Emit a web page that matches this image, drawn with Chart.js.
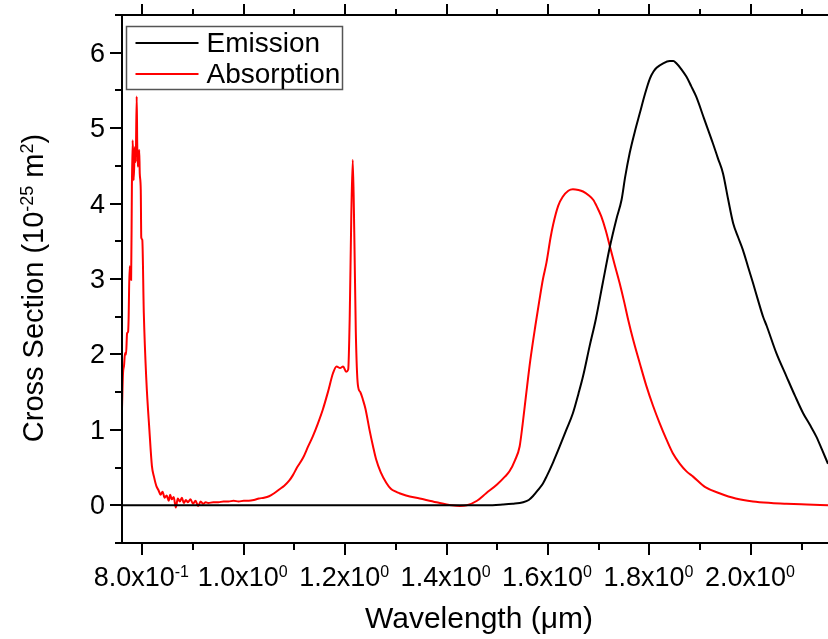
<!DOCTYPE html>
<html>
<head>
<meta charset="utf-8">
<script src="https://cdn.jsdelivr.net/npm/chart.js@4.4.0/dist/chart.umd.min.js"></script>
<style>
    html, body { margin: 0; padding: 0; background: #fff; }
    #wrap { position: relative; width: 828px; height: 639px; }
</style>
</head>
<body>
<div id="wrap"><canvas id="chart"></canvas></div>
<script>
// Emission cross section (black), wavelength in um, value in 1e-25 m^2
const emissionWavelength = [
    0.760, 1.400, 1.480, 1.511, 1.530, 1.551, 1.562, 1.570, 1.580, 1.590,
    1.597, 1.610, 1.623, 1.636, 1.649, 1.660, 1.669, 1.682, 1.694, 1.708,
    1.722, 1.735, 1.745, 1.752, 1.761, 1.771, 1.781, 1.791, 1.801, 1.808,
    1.814, 1.827, 1.840, 1.847, 1.853, 1.863, 1.873, 1.882, 1.892, 1.908,
    1.925, 1.935, 1.945, 1.955, 1.965, 1.975, 1.984, 1.994, 2.004, 2.014,
    2.024, 2.031, 2.050, 2.070, 2.087, 2.103, 2.116, 2.129, 2.140, 2.152
];
const emissionValue = [
    0.00, 0.00, 0.00, 0.01, 0.02, 0.04, 0.07, 0.12, 0.20, 0.29,
    0.38, 0.57, 0.78, 1.00, 1.22, 1.48, 1.71, 2.11, 2.46, 2.95,
    3.43, 3.80, 4.05, 4.35, 4.67, 4.95, 5.20, 5.45, 5.66, 5.75,
    5.80, 5.86, 5.89, 5.89, 5.86, 5.78, 5.68, 5.56, 5.42, 5.12,
    4.80, 4.60, 4.40, 4.06, 3.74, 3.55, 3.39, 3.17, 2.95, 2.72,
    2.50, 2.38, 2.02, 1.71, 1.45, 1.22, 1.07, 0.91, 0.74, 0.55
];

// Absorption cross section (red)
const absorptionWavelength = [
    0.760, 0.762, 0.764, 0.766, 0.768, 0.770, 0.772, 0.773, 0.775, 0.777,
    0.778, 0.7795, 0.781, 0.782, 0.783, 0.785, 0.786, 0.787, 0.789, 0.790,
    0.791, 0.793, 0.794, 0.795, 0.797, 0.798, 0.800, 0.803, 0.808, 0.814,
    0.819, 0.823, 0.828, 0.832, 0.836, 0.840, 0.844, 0.848, 0.852, 0.855,
    0.858, 0.862, 0.866, 0.870, 0.874, 0.878, 0.882, 0.886, 0.890, 0.895,
    0.900, 0.905, 0.910, 0.915, 0.920, 0.925, 0.930, 0.940, 0.950, 0.960,
    0.970, 0.980, 0.990, 1.000, 1.010, 1.020, 1.030, 1.040, 1.050, 1.060,
    1.070, 1.080, 1.090, 1.097, 1.105, 1.117, 1.127, 1.136, 1.146, 1.156,
    1.166, 1.176, 1.183, 1.190, 1.196, 1.202, 1.206, 1.209, 1.212, 1.215,
    1.218, 1.221, 1.225, 1.230, 1.235, 1.240, 1.248, 1.255, 1.261, 1.270,
    1.281, 1.290, 1.300, 1.307, 1.320, 1.347, 1.380, 1.410, 1.426, 1.440,
    1.460, 1.478, 1.500, 1.515, 1.524, 1.535, 1.544, 1.550, 1.557, 1.565,
    1.575, 1.583, 1.590, 1.597, 1.605, 1.610, 1.620, 1.629, 1.640, 1.649,
    1.660, 1.669, 1.680, 1.689, 1.697, 1.705, 1.714, 1.722, 1.731, 1.741,
    1.750, 1.758, 1.768, 1.781, 1.794, 1.807, 1.820, 1.833, 1.846, 1.860,
    1.873, 1.886, 1.910, 1.938, 1.970, 2.004, 2.040, 2.070, 2.110, 2.152
];
const absorptionValue = [
    1.28, 1.75, 1.85, 2.02, 2.00, 2.28, 2.30, 2.46, 3.17, 3.05,
    2.99, 4.22, 4.84, 4.60, 4.31, 4.70, 4.75, 4.55, 5.42, 4.80,
    4.49, 4.60, 4.71, 4.40, 4.18, 3.55, 3.52, 2.55, 1.66, 1.00,
    0.52, 0.38, 0.25, 0.20, 0.14, 0.18, 0.10, 0.13, 0.06, 0.14,
    0.08, 0.11, -0.03, 0.09, 0.05, 0.10, 0.03, 0.07, 0.04, 0.08,
    0.02, 0.06, -0.01, 0.05, 0.02, 0.04, 0.03, 0.04, 0.04, 0.05,
    0.05, 0.06, 0.05, 0.06, 0.06, 0.07, 0.09, 0.10, 0.12, 0.16,
    0.21, 0.26, 0.33, 0.40, 0.50, 0.63, 0.78, 0.91, 1.08, 1.27,
    1.50, 1.75, 1.84, 1.82, 1.84, 1.77, 1.80, 2.50, 3.80, 4.58,
    3.60, 2.30, 1.60, 1.50, 1.40, 1.28, 1.00, 0.78, 0.61, 0.44,
    0.30, 0.22, 0.18, 0.16, 0.13, 0.09, 0.04, 0.00, -0.01, 0.00,
    0.06, 0.16, 0.28, 0.38, 0.45, 0.60, 0.78, 1.08, 1.48, 1.92,
    2.38, 2.72, 3.00, 3.22, 3.55, 3.72, 3.97, 4.09, 4.17, 4.19,
    4.18, 4.16, 4.11, 4.05, 3.95, 3.83, 3.64, 3.43, 3.20, 2.95,
    2.70, 2.46, 2.19, 1.88, 1.58, 1.32, 1.09, 0.88, 0.69, 0.55,
    0.45, 0.38, 0.24, 0.16, 0.09, 0.05, 0.03, 0.02, 0.01, 0.00
];

// axis ticks and labels
const xMajorTicks = [0.8, 1.0, 1.2, 1.4, 1.6, 1.8, 2.0];
const xMinorTicks = [0.9, 1.1, 1.3, 1.5, 1.7, 1.9, 2.1];
const xTickMantissa = ['8.0', '1.0', '1.2', '1.4', '1.6', '1.8', '2.0'];
const xTickExponent = ['-1', '0', '0', '0', '0', '0', '0'];
const yMajorTicks = [0, 1, 2, 3, 4, 5, 6];
const yMinorTicks = [-0.5, 0.5, 1.5, 2.5, 3.5, 4.5, 5.5, 6.5];

const FONT = '"Liberation Sans", Arial, Helvetica, sans-serif';

function toPoints(xs, ys)
{
    return xs.map((x, i) => ({ x: x, y: ys[i] }));
}

// draws text pieces, some of them raised as superscript
function drawRich(ctx, parts, x, y, size, align, supScale = 0.6, rise = 0.33)
{
    const supSize = Math.round(size * supScale);
    let total = 0;
    const widths = parts.map(([t, sup]) =>
    {
        ctx.font = (sup ? supSize : size) + 'px ' + FONT;
        const w = ctx.measureText(t).width;
        total += w;
        return w;
    });
    let cx = align === 'center' ? x - total / 2 : (align === 'right' ? x - total : x);
    ctx.textAlign = 'left';
    ctx.textBaseline = 'alphabetic';
    parts.forEach(([t, sup], i) =>
    {
        ctx.font = (sup ? supSize : size) + 'px ' + FONT;
        ctx.fillText(t, cx, sup ? y - size * rise : y);
        cx += widths[i];
    });
}

const originFrame = {
    id: 'originFrame',
    afterDraw(chart)
    {
        const ctx = chart.ctx;
        const a = chart.chartArea;
        const xs = chart.scales.x;
        const ys = chart.scales.y;

        ctx.save();
        ctx.strokeStyle = '#000';
        ctx.fillStyle = '#000';
        ctx.lineWidth = 2;
        ctx.lineCap = 'butt';

        // axis lines (left, bottom, top)
        ctx.beginPath();
        ctx.moveTo(a.left, a.top - 1);
        ctx.lineTo(a.left, a.bottom + 1);
        ctx.moveTo(a.left - 1, a.bottom);
        ctx.lineTo(a.right, a.bottom);
        ctx.moveTo(a.left - 1, a.top);
        ctx.lineTo(a.right, a.top);
        ctx.stroke();

        // x ticks, bottom and top, pointing outwards
        ctx.beginPath();
        xMajorTicks.forEach(v =>
        {
            const px = Math.round(xs.getPixelForValue(v));
            ctx.moveTo(px, a.bottom); ctx.lineTo(px, a.bottom + 12);
            ctx.moveTo(px, a.top); ctx.lineTo(px, a.top - 11);
        });
        xMinorTicks.forEach(v =>
        {
            const px = Math.round(xs.getPixelForValue(v));
            ctx.moveTo(px, a.bottom); ctx.lineTo(px, a.bottom + 7);
            ctx.moveTo(px, a.top); ctx.lineTo(px, a.top - 6);
        });
        // y ticks on the left
        yMajorTicks.forEach(v =>
        {
            const py = Math.round(ys.getPixelForValue(v));
            ctx.moveTo(a.left, py); ctx.lineTo(a.left - 12, py);
        });
        yMinorTicks.forEach(v =>
        {
            const py = Math.round(ys.getPixelForValue(v));
            ctx.moveTo(a.left, py); ctx.lineTo(a.left - 7, py);
        });
        ctx.stroke();

        // tick labels
        xMajorTicks.forEach((v, i) =>
        {
            const px = xs.getPixelForValue(v);
            drawRich(ctx, [[xTickMantissa[i] + 'x10', false], [xTickExponent[i], true]],
                px - 1, a.bottom + 43, 27, 'center', 0.58, 0.32);
        });
        yMajorTicks.forEach(v =>
        {
            const py = ys.getPixelForValue(v);
            drawRich(ctx, [[String(v), false]], a.left - 17, py + 9, 27, 'right');
        });

        // axis titles
        drawRich(ctx, [['Wavelength (\u03bcm)', false]], 479, 628, 30, 'center');
        ctx.save();
        ctx.translate(43, 288);
        ctx.rotate(-Math.PI / 2);
        drawRich(ctx, [['Cross Section (10', false], ['-25', true], [' m', false], ['2', true], [')', false]],
            0, 0, 29, 'center', 0.62, 0.36);
        ctx.restore();

        // legend box inside the plot
        const bx = a.left + 4.5, by = 26.5, bw = 216, bh = 63;
        ctx.fillStyle = '#fff';
        ctx.fillRect(bx, by, bw, bh);
        ctx.strokeStyle = '#555';
        ctx.lineWidth = 1.5;
        ctx.strokeRect(bx, by, bw, bh);
        const rows = [43, 74];
        chart.data.datasets.forEach((ds, i) =>
        {
            ctx.strokeStyle = ds.borderColor;
            ctx.lineWidth = 2;
            ctx.beginPath();
            ctx.moveTo(bx + 9, rows[i]);
            ctx.lineTo(bx + 72, rows[i]);
            ctx.stroke();
            ctx.fillStyle = '#000';
            drawRich(ctx, [[ds.label, false]], bx + 80, rows[i] + 9, 28, 'left');
        });

        ctx.restore();
    }
};

const chart = new Chart(document.getElementById('chart').getContext('2d'),
    {
        type: 'line',
        data: {
            datasets: [
                {
                    label: 'Emission',
                    data: toPoints(emissionWavelength, emissionValue),
                    borderColor: '#000000',
                    borderWidth: 2,
                    pointRadius: 0,
                    fill: false,
                    cubicInterpolationMode: 'monotone'
                },
                {
                    label: 'Absorption',
                    data: toPoints(absorptionWavelength, absorptionValue),
                    borderColor: '#ff0000',
                    borderWidth: 2,
                    pointRadius: 0,
                    fill: false,
                    cubicInterpolationMode: 'monotone'
                }
            ]
        },
        options: {
            responsive: true,
            maintainAspectRatio: false,
            animation: false,
            layout: { padding: { left: 122, top: 15, right: 0, bottom: 96 } },
            plugins: {
                legend: { display: false },
                tooltip: { enabled: false }
            },
            scales: {
                x: { type: 'linear', min: 0.76, max: 2.152, display: false },
                y: { type: 'linear', min: -0.5, max: 6.5, display: false }
            }
        },
        plugins: [originFrame]
    });
</script>
</body>
</html>
